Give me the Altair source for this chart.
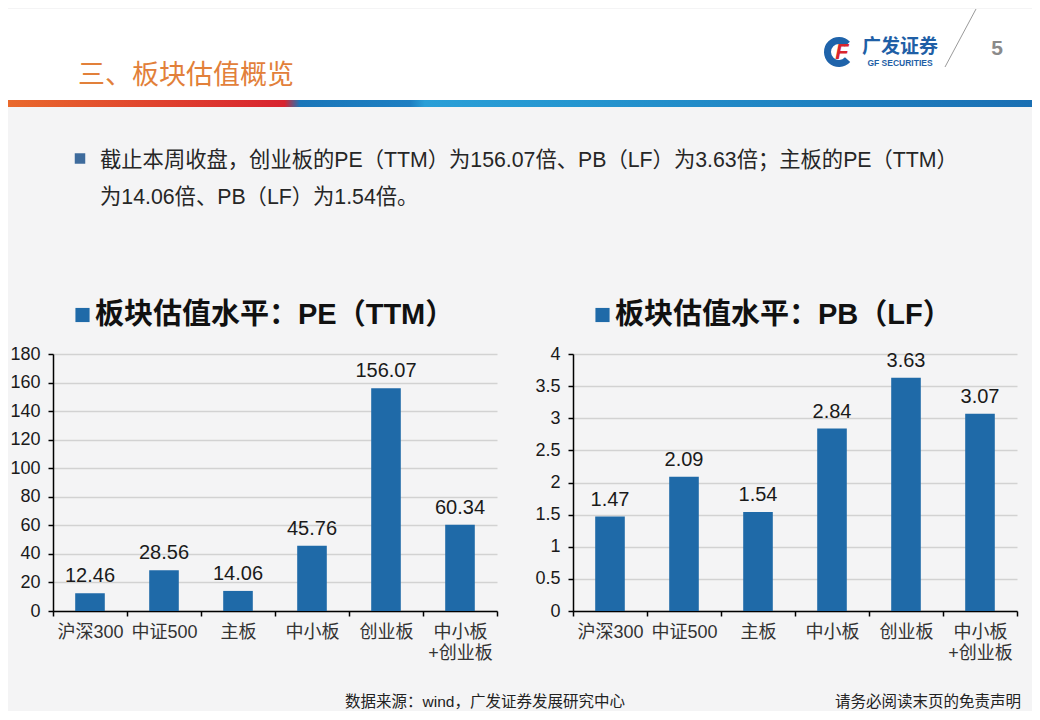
import altair as alt
import pandas as pd

# ---------------- data ----------------
categories = ["沪深300", "中证500", "主板", "中小板", "创业板", "中小板+创业板"]
pe_ttm = [12.46, 28.56, 14.06, 45.76, 156.07, 60.34]
pb_lf = [1.47, 2.09, 1.54, 2.84, 3.63, 3.07]
pe_ticks = [0, 20, 40, 60, 80, 100, 120, 140, 160, 180]
pb_ticks = [0, 0.5, 1, 1.5, 2, 2.5, 3, 3.5, 4]

page_title = "三、板块估值概览"
bullet_line1 = "截止本周收盘，创业板的PE（TTM）为156.07倍、PB（LF）为3.63倍；主板的PE（TTM）"
bullet_line2 = "为14.06倍、PB（LF）为1.54倍。"
pe_title = "板块估值水平：PE（TTM）"
pb_title = "板块估值水平：PB（LF）"
source_note = "数据来源：wind，广发证券发展研究中心"
disclaimer = "请务必阅读末页的免责声明"
brand_cn = "广发证券"
brand_en = "GF SECURITIES"
brand_mark = "F"
page_no = "5"

# ---------------- style ----------------
FONT = "Liberation Sans, Arial, Noto Sans CJK SC, sans-serif"
CJK = "Noto Sans CJK SC, sans-serif"
BG = "#f4f4f5"
BAR = "#1f6aa8"
PW, PH = 444, 257

one = pd.DataFrame({"k": [0]})


def txt(text, x, y, size, color="#222", weight="normal", align="left",
        font=FONT, style="normal"):
    return alt.Chart(one).mark_text(
        text=text, fontSize=size, color=color, fontWeight=weight,
        align=align, baseline="middle", font=font, fontStyle=style
    ).encode(x=alt.value(x), y=alt.value(y))


def box(x, x2, y, y2, fill):
    return alt.Chart(one).mark_rect(fill=fill, strokeWidth=0).encode(
        x=alt.value(x), x2=alt.value(x2), y=alt.value(y), y2=alt.value(y2))


label_expr = ("datum.label == '中小板+创业板' ? ['中小板', '+创业板'] : datum.label")


def panel(values, ticks, fmt, title_text):
    df = pd.DataFrame({"板块": categories, "估值": values})
    base = alt.Chart(df).encode(
        x=alt.X("板块:N", sort=categories,
                scale=alt.Scale(paddingInner=0, paddingOuter=0),
                axis=alt.Axis(title=None, labelAngle=0, grid=False,
                              tickBand="extent", labelExpr=label_expr,
                              labelOverlap=False, labelColor="#333")),
        y=alt.Y("估值:Q",
                scale=alt.Scale(domain=[ticks[0], ticks[-1]], nice=False),
                axis=alt.Axis(title=None, values=ticks, format=fmt, grid=True)),
    )
    bars = base.mark_bar(width=alt.RelativeBandSize(0.4), color=BAR)
    labels = base.mark_text(baseline="alphabetic", dy=-11, fontSize=20,
                            font=FONT, color="#1a1a1a").encode(
        text=alt.Text("估值:Q", format=".2f"))
    sq = alt.Chart(one).mark_square(size=200, color=BAR, opacity=1).encode(
        x=alt.value(29.5), y=alt.value(-39))
    ttl = txt(title_text, 42, -39, 29, "#111", "bold")
    return [bars, labels, sq, ttl]


grad = alt.Gradient(
    gradient="linear", x1=0, x2=1, y1=0, y2=0,
    stops=[
        alt.GradientStop(color="#e9692c", offset=0),
        alt.GradientStop(color="#e0442e", offset=0.14),
        alt.GradientStop(color="#d8232f", offset=0.27),
        alt.GradientStop(color="#1a76b9", offset=0.285),
        alt.GradientStop(color="#1e7fc2", offset=0.393),
        alt.GradientStop(color="#2a9fd7", offset=0.407),
        alt.GradientStop(color="#2596d0", offset=0.55),
        alt.GradientStop(color="#1a6fb3", offset=1),
    ],
)

header = [
    box(-45, 979, -345, -254, "white"),
    box(-45, 979, -254, -247, grad),
    box(-45, 979, 355, 357, BG),
    txt(page_title, 25, -278, 27, "#e2803a", font=CJK),
    alt.Chart(one).mark_arc(innerRadius=8, outerRadius=15, theta=2.3,
                            theta2=7.1, color="#1f63aa").encode(
        x=alt.value(786), y=alt.value(-302)),
    txt(brand_mark, 789, -302, 22, "#d9262e", "bold", "center", style="italic"),
    txt(brand_cn, 847, -307, 19, "#1f5fa6", "bold", "center", font=CJK),
    txt(brand_en, 847, -291, 8.5, "#1f5fa6", "bold", "center"),
    alt.Chart(one).mark_rule(color="#9a9a9a", strokeWidth=1).encode(
        x=alt.value(923), y=alt.value(-345), x2=alt.value(892), y2=alt.value(-287)),
    txt(page_no, 944, -305, 21, "#8a8a8a", "bold", "center"),
    alt.Chart(one).mark_square(size=110, color="#3e6b9c", opacity=1).encode(
        x=alt.value(27), y=alt.value(-195.5)),
    txt(bullet_line1, 47, -193, 21.3, "#262626"),
    txt(bullet_line2, 47, -156, 21.3, "#262626"),
    txt(source_note, 292, 348, 15.5, "#222"),
    txt(disclaimer, 782, 348, 15.5, "#222"),
]

left = alt.layer(*header, *panel(pe_ttm, pe_ticks, "d", pe_title)).properties(
    width=PW, height=PH)
right = alt.layer(*panel(pb_lf, pb_ticks, "~g", pb_title)).properties(
    width=PW, height=PH)

chart = alt.hconcat(left, right, spacing=76, bounds="flush").properties(
    padding=0, background=BG
).configure_view(stroke=None).configure_axis(
    domainColor="#000", domainWidth=1.5, tickColor="#000", tickWidth=1.5,
    tickSize=5, labelFont=FONT, labelFontSize=18, labelColor="#1a1a1a",
    gridColor="#d2d2d2", gridWidth=1.5
).configure_axisX(labelPadding=7, labelLineHeight=21).configure_axisY(
    labelPadding=8)

chart.save("out.html", embed_options={"renderer": "svg", "actions": False})
